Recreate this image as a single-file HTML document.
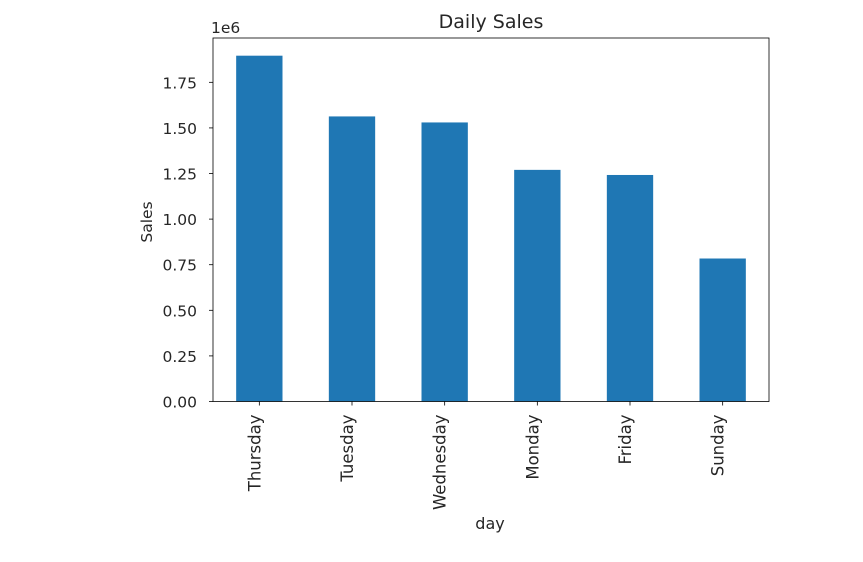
<!DOCTYPE html>
<html><head><meta charset="utf-8"><style>
body{margin:0;background:#fff;}
svg text{font-family:"DejaVu Sans","Liberation Sans",sans-serif;fill:#262626;}
</style></head><body>
<svg id="chart" width="863" height="557" xmlns="http://www.w3.org/2000/svg">
<g id="plot"></g>
</svg>
<script>
const categories=["Thursday","Tuesday","Wednesday","Monday","Friday","Sunday"];
const sales=[1.896,1.563,1.530,1.270,1.242,0.784];
const yTicks=[0,0.25,0.5,0.75,1.0,1.25,1.5,1.75];
const yTickLabels=["0.00","0.25","0.50","0.75","1.00","1.25","1.50","1.75"];
const L=213,R=769,T=38,B=401.5,ymax=1.993;
const ns="http://www.w3.org/2000/svg";
const g=document.getElementById('plot');
const y=v=>B-(B-T)*v/ymax;
const step=(R-L)/categories.length;
const x=i=>L+step*(i+0.5);
function mk(t,a,txt){const e=document.createElementNS(ns,t);for(const k in a)e.setAttribute(k,a[k]);if(txt!==undefined)e.textContent=txt;g.appendChild(e);return e;}
categories.forEach((c,i)=>{
  const r=mk('rect',{x:x(i)-step*0.25,y:y(sales[i]),width:step*0.5,height:B-y(sales[i]),fill:'#1f77b4'});
  
  
  const tk=mk('line',{x1:x(i),x2:x(i),y1:B,y2:B+4,stroke:'#000','stroke-width':0.8});
  
  
  const tx=x(i)+1, ty=B+13;
  const t=mk('text',{x:tx,y:ty,'font-size':16.5,'text-anchor':'end',transform:`rotate(-90 ${tx} ${ty})`},c);
  
  
});
yTicks.forEach((v,i)=>{
  const tk=mk('line',{x1:L-4,x2:L,y1:y(v),y2:y(v),stroke:'#000','stroke-width':0.8});
  
  
  const t=mk('text',{x:L-16,y:y(v)+6,'font-size':15.5,'text-anchor':'end'},yTickLabels[i]);
  
  
});
const fr=mk('rect',{x:L,y:T,width:R-L,height:B-T,fill:'none',stroke:'#000','stroke-width':0.8});


const off=mk('text',{x:L-2,y:T-5,'font-size':15.5},'1e6');


const ti=mk('text',{x:491,y:T-10,'font-size':19,'text-anchor':'middle'},'Daily Sales');


const xt=mk('text',{x:490,y:529,'font-size':16,'text-anchor':'middle'},'day');


const yt=mk('text',{x:152,y:222,'font-size':15.5,'text-anchor':'middle',transform:`rotate(-90 152 222)`},'Sales');


</script>
</body></html>
